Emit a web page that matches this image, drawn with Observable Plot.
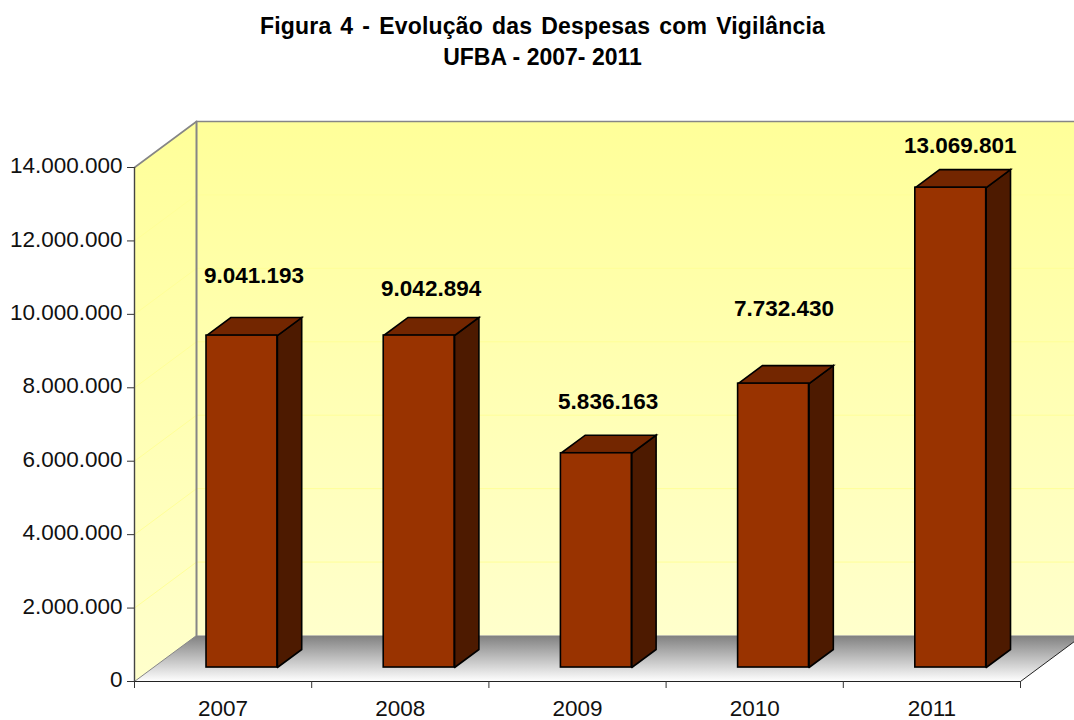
<!DOCTYPE html>
<html lang="pt">
<head>
<meta charset="utf-8">
<script src="https://cdn.jsdelivr.net/npm/d3@7"></script>
<script src="https://cdn.jsdelivr.net/npm/@observablehq/plot@0.6"></script>
<style>
html,body{margin:0;padding:0;background:#fff;overflow:hidden;width:1074px;height:720px}
#title{height:80px;box-sizing:border-box;padding-top:11px;text-align:center;width:1085px;font:bold 23px/31px "Liberation Sans",Arial,sans-serif;color:#000}
#title .first{word-spacing:2.4px;letter-spacing:.2px}
#chart svg{display:block}
</style>
</head>
<body>
<div id="title"><span class="first">Figura 4 - Evolução das Despesas com Vigilância</span><br>UFBA - 2007- 2011</div>
<div id="chart"></div>
<script>
// Data
const years = ["2007", "2008", "2009", "2010", "2011"];
const values = [9041193, 9042894, 5836163, 7732430, 13069801];
const yTicks = [0, 2000000, 4000000, 6000000, 8000000, 10000000, 12000000, 14000000];

// Hand-placed value labels, in axis units (category, value)
const labelAtX = [0.674, 1.674, 2.673, 3.665, 4.66];
const labelAtY = [11050000, 10700000, 7625000, 10150000, 14590000];

// Oblique projection of the 3D box: a full step of depth moves this far along each axis
const depthX = 0.35, depthY = 1253000;
const barFront = 0.304, barBack = 0.696, barHalf = 0.2;
const wallTop = 14000000, catCount = years.length;

const P = (cat, val, depth) => ({x: cat + depth * depthX, y: val + depth * depthY});
const poly = (id, pts) => [...pts, pts[0]].map(p => ({id, ...p}));

const fmt = d3.formatLocale({decimal: ",", thousands: ".", grouping: [3], currency: ["", ""]}).format(",");

const leftWall = poly("l", [P(0,0,0), P(0,0,1), P(0,wallTop,1), P(0,wallTop,0)]);
const backWall = poly("b", [P(0,0,1), P(catCount,0,1), P(catCount,wallTop,1), P(0,wallTop,1)]);
const floor = poly("f", [P(0,0,0), P(0,0,1), P(catCount,0,1), P(catCount,0,0)]);

const grid = yTicks.slice(1, -1).flatMap(v => [
  {id: v, ...P(0, v, 0)}, {id: v, ...P(0, v, 1)}, {id: v, ...P(catCount, v, 1)}
]);

const fronts = values.map((v, i) => {
  const a = P(i + 0.5 - barHalf, 0, barFront), b = P(i + 0.5 + barHalf, v, barFront);
  return {x1: a.x, x2: b.x, y1: a.y, y2: b.y};
});
const sides = values.flatMap((v, i) => {
  const c = i + 0.5 + barHalf;
  return poly(i, [P(c,0,barFront), P(c,0,barBack), P(c,v,barBack), P(c,v,barFront)]);
});
const tops = values.flatMap((v, i) => {
  const l = i + 0.5 - barHalf, r = i + 0.5 + barHalf;
  return poly(i, [P(l,v,barFront), P(l,v,barBack), P(r,v,barBack), P(r,v,barFront)]);
});
const labels = values.map((v, i) => ({x: labelAtX[i], y: labelAtY[i], t: fmt(v)}));

function gradients() {
  const ns = "http://www.w3.org/2000/svg";
  const defs = document.createElementNS(ns, "defs");
  const mk = (id, stops) => {
    const g = document.createElementNS(ns, "linearGradient");
    g.setAttribute("id", id);
    g.setAttribute("x1", 0); g.setAttribute("x2", 0); g.setAttribute("y1", 0); g.setAttribute("y2", 1);
    stops.forEach(([o, c]) => {
      const s = document.createElementNS(ns, "stop");
      s.setAttribute("offset", o); s.setAttribute("stop-color", c);
      g.appendChild(s);
    });
    defs.appendChild(g);
  };
  mk("wall", [[0, "#FFFF99"], [1, "#FFFFCC"]]);
  mk("ground", [[0, "#808080"], [1, "#FFFFFF"]]);
  return defs;
}

const barStroke = {stroke: "#000", strokeWidth: 1.6, strokeLinejoin: "miter", strokeMiterlimit: 4, curve: "linear"};
const edge = {stroke: "#868686", strokeWidth: 1.6, curve: "linear"};

const plot = Plot.plot({
  width: 1074,
  height: 640,
  marginLeft: 134,
  marginRight: 54,
  marginTop: 87,
  marginBottom: 39,
  style: {fontFamily: '"Liberation Sans",Arial,sans-serif', background: "transparent", overflow: "hidden"},
  x: {domain: [0, catCount], axis: null},
  y: {domain: [0, wallTop], axis: null},
  marks: [
    gradients,
    Plot.line(leftWall, {x: "x", y: "y", z: "id", fill: "url(#wall)", stroke: "none"}),
    Plot.line(backWall, {x: "x", y: "y", z: "id", fill: "url(#wall)", stroke: "none"}),
    Plot.line(floor, {x: "x", y: "y", z: "id", fill: "url(#ground)", stroke: "none"}),
    Plot.line(grid, {x: "x", y: "y", z: "id", stroke: "#FFFF99", strokeWidth: 1, curve: "linear"}),
    // gray wall edges
    Plot.line([P(0,0,1), P(0,wallTop,1)], {x: "x", y: "y", ...edge, strokeWidth: 2}),
    Plot.line([P(0,wallTop,0), P(0,wallTop,1), P(catCount,wallTop,1)], {x: "x", y: "y", ...edge}),
    Plot.line([P(0,0,0), P(0,0,1)], {x: "x", y: "y", ...edge, strokeWidth: 1}),
    // front floor edges and axes
    Plot.line([P(catCount,0,0), P(catCount,0,1)], {x: "x", y: "y", stroke: "#222", strokeWidth: 1, curve: "linear"}),
    Plot.ruleY([0], {x1: 0, x2: catCount, stroke: "#222", strokeWidth: 1.2}),
    Plot.ruleX([0], {y1: 0, y2: wallTop, stroke: "#444", strokeWidth: 1.4}),
    // bars
    Plot.line(sides, {x: "x", y: "y", z: "id", fill: "#4D1A00", ...barStroke}),
    Plot.line(tops, {x: "x", y: "y", z: "id", fill: "#732600", ...barStroke}),
    Plot.rect(fronts, {x1: "x1", x2: "x2", y1: "y1", y2: "y2", fill: "#993300", stroke: "#000", strokeWidth: 1.6}),
    // axes
    Plot.axisY({anchor: "left", ticks: yTicks, tickFormat: () => "", tickSize: 7, label: null, stroke: "#333"}),
    Plot.axisY({anchor: "left", ticks: yTicks, tickFormat: fmt, tickSize: 0, tickPadding: 12, dy: -1.5, fontSize: 22.5, label: null, fill: "#111"}),
    Plot.axisX({anchor: "bottom", ticks: d3.range(catCount + 1), tickFormat: () => "", tickSize: 7, label: null, stroke: "#333"}),
    Plot.text(years, {x: (d, i) => i + 0.5, frameAnchor: "bottom", dy: 34, text: d => d, fontSize: 22.5, fill: "#111", lineAnchor: "bottom"}),
    // value labels
    Plot.text(labels, {x: "x", y: "y", text: "t", fontSize: 22.5, fontWeight: "bold", fill: "#000", lineAnchor: "middle"})
  ]
});
document.getElementById("chart").appendChild(plot);
</script>
</body>
</html>
